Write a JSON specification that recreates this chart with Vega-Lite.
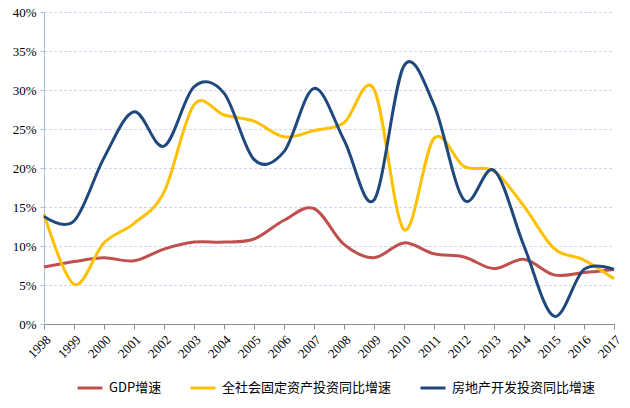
{
  "$schema": "https://vega.github.io/schema/vega-lite/v6.json",
  "width": 570,
  "height": 312,
  "autosize": {"type": "none"},
  "padding": {"left": 44, "top": 12, "right": 16, "bottom": 84},
  "background": "white",
  "config": {"view": {"stroke": null}},
  "data": {"values": [
    {"year": "1998", "s": "GDP增速", "v": 7.3},
    {"year": "1999", "s": "GDP增速", "v": 8.0},
    {"year": "2000", "s": "GDP增速", "v": 8.5},
    {"year": "2001", "s": "GDP增速", "v": 8.1},
    {"year": "2002", "s": "GDP增速", "v": 9.6},
    {"year": "2003", "s": "GDP增速", "v": 10.5},
    {"year": "2004", "s": "GDP增速", "v": 10.5},
    {"year": "2005", "s": "GDP增速", "v": 10.9},
    {"year": "2006", "s": "GDP增速", "v": 13.3},
    {"year": "2007", "s": "GDP增速", "v": 14.8},
    {"year": "2008", "s": "GDP增速", "v": 10.2},
    {"year": "2009", "s": "GDP增速", "v": 8.5},
    {"year": "2010", "s": "GDP增速", "v": 10.4},
    {"year": "2011", "s": "GDP增速", "v": 9.0},
    {"year": "2012", "s": "GDP增速", "v": 8.6},
    {"year": "2013", "s": "GDP增速", "v": 7.1},
    {"year": "2014", "s": "GDP增速", "v": 8.3},
    {"year": "2015", "s": "GDP增速", "v": 6.3},
    {"year": "2016", "s": "GDP增速", "v": 6.6},
    {"year": "2017", "s": "GDP增速", "v": 7.0},
    {"year": "1998", "s": "全社会固定资产投资同比增速", "v": 14.1},
    {"year": "1999", "s": "全社会固定资产投资同比增速", "v": 5.1},
    {"year": "2000", "s": "全社会固定资产投资同比增速", "v": 10.4},
    {"year": "2001", "s": "全社会固定资产投资同比增速", "v": 12.9},
    {"year": "2002", "s": "全社会固定资产投资同比增速", "v": 16.9},
    {"year": "2003", "s": "全社会固定资产投资同比增速", "v": 28.1},
    {"year": "2004", "s": "全社会固定资产投资同比增速", "v": 26.8},
    {"year": "2005", "s": "全社会固定资产投资同比增速", "v": 26.0},
    {"year": "2006", "s": "全社会固定资产投资同比增速", "v": 24.0},
    {"year": "2007", "s": "全社会固定资产投资同比增速", "v": 24.8},
    {"year": "2008", "s": "全社会固定资产投资同比增速", "v": 25.8},
    {"year": "2009", "s": "全社会固定资产投资同比增速", "v": 30.1},
    {"year": "2010", "s": "全社会固定资产投资同比增速", "v": 12.1},
    {"year": "2011", "s": "全社会固定资产投资同比增速", "v": 23.8},
    {"year": "2012", "s": "全社会固定资产投资同比增速", "v": 20.2},
    {"year": "2013", "s": "全社会固定资产投资同比增速", "v": 19.6},
    {"year": "2014", "s": "全社会固定资产投资同比增速", "v": 15.1},
    {"year": "2015", "s": "全社会固定资产投资同比增速", "v": 9.7},
    {"year": "2016", "s": "全社会固定资产投资同比增速", "v": 8.2},
    {"year": "2017", "s": "全社会固定资产投资同比增速", "v": 5.8},
    {"year": "1998", "s": "房地产开发投资同比增速", "v": 13.8},
    {"year": "1999", "s": "房地产开发投资同比增速", "v": 13.2},
    {"year": "2000", "s": "房地产开发投资同比增速", "v": 21.3},
    {"year": "2001", "s": "房地产开发投资同比增速", "v": 27.2},
    {"year": "2002", "s": "房地产开发投资同比增速", "v": 22.8},
    {"year": "2003", "s": "房地产开发投资同比增速", "v": 30.4},
    {"year": "2004", "s": "房地产开发投资同比增速", "v": 29.6},
    {"year": "2005", "s": "房地产开发投资同比增速", "v": 21.1},
    {"year": "2006", "s": "房地产开发投资同比增速", "v": 22.1},
    {"year": "2007", "s": "房地产开发投资同比增速", "v": 30.2},
    {"year": "2008", "s": "房地产开发投资同比增速", "v": 23.6},
    {"year": "2009", "s": "房地产开发投资同比增速", "v": 15.9},
    {"year": "2010", "s": "房地产开发投资同比增速", "v": 33.1},
    {"year": "2011", "s": "房地产开发投资同比增速", "v": 28.1},
    {"year": "2012", "s": "房地产开发投资同比增速", "v": 15.9},
    {"year": "2013", "s": "房地产开发投资同比增速", "v": 19.7},
    {"year": "2014", "s": "房地产开发投资同比增速", "v": 10.0},
    {"year": "2015", "s": "房地产开发投资同比增速", "v": 1.0},
    {"year": "2016", "s": "房地产开发投资同比增速", "v": 7.0},
    {"year": "2017", "s": "房地产开发投资同比增速", "v": 7.0}
  ]},
  "mark": {"type": "line", "interpolate": "cardinal", "strokeWidth": 3},
  "encoding": {
    "x": {
      "field": "year", "type": "ordinal",
      "scale": {"type": "point", "padding": 0},
      "axis": {
        "title": null, "labelAngle": -45, "labelFont": "Liberation Serif",
        "labelFontSize": 13, "labelColor": "#000000", "labelPadding": 4,
        "domainColor": "#8c8c8c", "tickColor": "#8c8c8c", "tickSize": 5, "grid": false
      }
    },
    "y": {
      "field": "v", "type": "quantitative",
      "scale": {"domain": [0, 40], "nice": false},
      "axis": {
        "title": null, "values": [0, 5, 10, 15, 20, 25, 30, 35, 40],
        "labelExpr": "datum.value + '%'", "labelFont": "Liberation Serif",
        "labelFontSize": 13, "labelColor": "#000000", "labelPadding": 4,
        "domainColor": "#a6bfe3", "tickColor": "#a6bfe3", "tickSize": 4,
        "grid": true, "gridColor": "#b4c7e7", "gridDash": [2, 3], "gridWidth": 1
      }
    },
    "color": {
      "field": "s", "type": "nominal",
      "scale": {
        "domain": ["GDP增速", "全社会固定资产投资同比增速", "房地产开发投资同比增速"],
        "range": ["#c0504d", "#ffc000", "#1f497d"]
      },
      "legend": {
        "title": null, "orient": "none", "direction": "horizontal",
        "legendX": 32, "legendY": 362,
        "symbolType": "stroke", "symbolSize": 625, "symbolStrokeWidth": 3,
        "labelFont": "Noto Sans CJK SC", "labelFontSize": 13, "labelColor": "#000000",
        "labelLimit": 0, "columnPadding": 22, "labelOffset": 5
      }
    }
  }
}
